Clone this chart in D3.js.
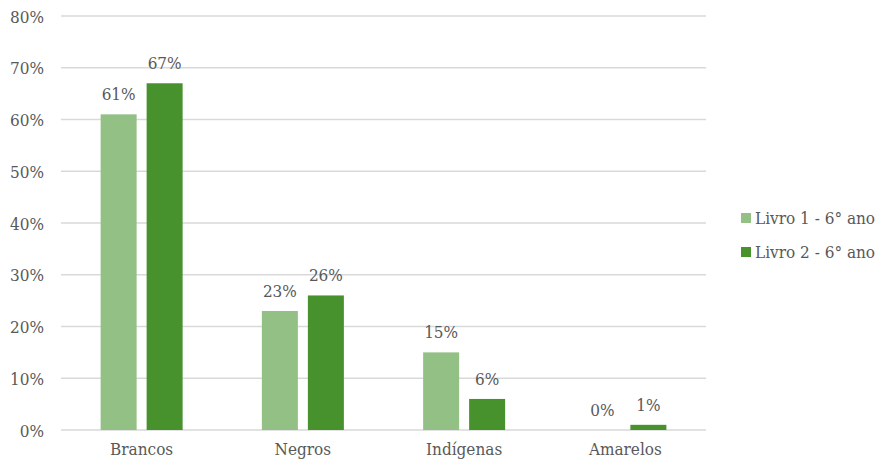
<!DOCTYPE html>
<html>
<head>
<meta charset="utf-8">
<script src="https://cdn.jsdelivr.net/npm/d3@7"></script>
<style>
  html, body { margin: 0; padding: 0; background: #fff; }
  svg text { font-family: "DejaVu Serif Condensed", "DejaVu Serif", serif; fill: #595959; }
</style>
</head>
<body>
<svg id="chart" width="883" height="466"></svg>
<script>
// Percentages of each group represented in the two 6th-grade textbooks
const categories = ["Brancos", "Negros", "Indígenas", "Amarelos"];
const seriesNames = ["Livro 1 - 6° ano", "Livro 2 - 6° ano"];
const livro1 = [61, 23, 15, 0];
const livro2 = [67, 26, 6, 1];
const yTicks = [0, 10, 20, 30, 40, 50, 60, 70, 80];
const colors = ["#93c185", "#47922d"];

const FONT = '"DejaVu Serif Condensed", "DejaVu Serif", serif';
const FS = 17;

const svg = d3.select("#chart");
const margin = { left: 61, right: 177, top: 16, bottom: 36 };
const width = 883 - margin.left - margin.right;
const height = 466 - margin.top - margin.bottom;

const g = svg.append("g").attr("transform", `translate(${margin.left},${margin.top})`);

const x = d3.scaleBand().domain(categories).range([0, width]);
const y = d3.scaleLinear().domain([0, 80]).range([height, 0]);

// Horizontal gridlines
g.selectAll("line.grid").data(yTicks).join("line")
  .attr("class", "grid")
  .attr("x1", 0).attr("x2", width)
  .attr("y1", d => y(d)).attr("y2", d => y(d))
  .attr("stroke", "#d9d9d9").attr("stroke-width", 1.3);

// Y axis labels
const yAxis = d3.axisLeft(y).tickValues(yTicks).tickFormat(d => d + "%").tickSize(0).tickPadding(17);
g.append("g").call(yAxis)
  .attr("font-family", FONT)
  .call(a => a.select(".domain").remove())
  .selectAll("text")
  .attr("font-size", FS).attr("dy", "0.36em")
  .style("font-family", FONT).attr("fill", "#595959");

// X axis labels
const xAxis = d3.axisBottom(x).tickSize(0).tickPadding(13);
g.append("g").attr("transform", `translate(0,${height})`).call(xAxis)
  .attr("font-family", FONT)
  .call(a => a.select(".domain").remove())
  .selectAll("text")
  .attr("font-size", FS)
  .style("font-family", FONT).attr("fill", "#595959");

const barW = 36, gap = 10;
const series = [livro1, livro2];
const xs = d3.scaleBand().domain([0, 1])
  .range([-(barW + gap / 2), barW + gap / 2])
  .paddingInner(gap / (barW + gap));

series.forEach((vals, si) => {
  const data = categories.map((c, i) => ({ c, v: vals[i] }));
  g.selectAll(`rect.s${si}`).data(data).join("rect")
    .attr("class", `s${si}`)
    .attr("x", d => x(d.c) + x.bandwidth() / 2 + xs(si))
    .attr("width", xs.bandwidth())
    .attr("y", d => y(d.v))
    .attr("height", d => height - y(d.v))
    .attr("fill", colors[si]);
  g.selectAll(`text.l${si}`).data(data).join("text")
    .attr("class", `l${si}`)
    .attr("x", d => x(d.c) + x.bandwidth() / 2 + xs(si) + xs.bandwidth() / 2)
    .attr("y", d => y(d.v) - 14)
    .attr("text-anchor", "middle")
    .attr("font-size", FS)
    .style("font-family", FONT)
    .text(d => d.v + "%");
});

// Legend
const legend = svg.append("g").attr("transform", "translate(741,0)");
seriesNames.forEach((name, i) => {
  const ly = 218 + i * 34;
  legend.append("rect").attr("x", 0).attr("y", ly - 5).attr("width", 10).attr("height", 10).attr("fill", colors[i]);
  legend.append("text").attr("x", 14).attr("y", ly).attr("dy", "0.36em")
    .attr("font-size", FS).style("font-family", FONT).text(name);
});
</script>
</body>
</html>
